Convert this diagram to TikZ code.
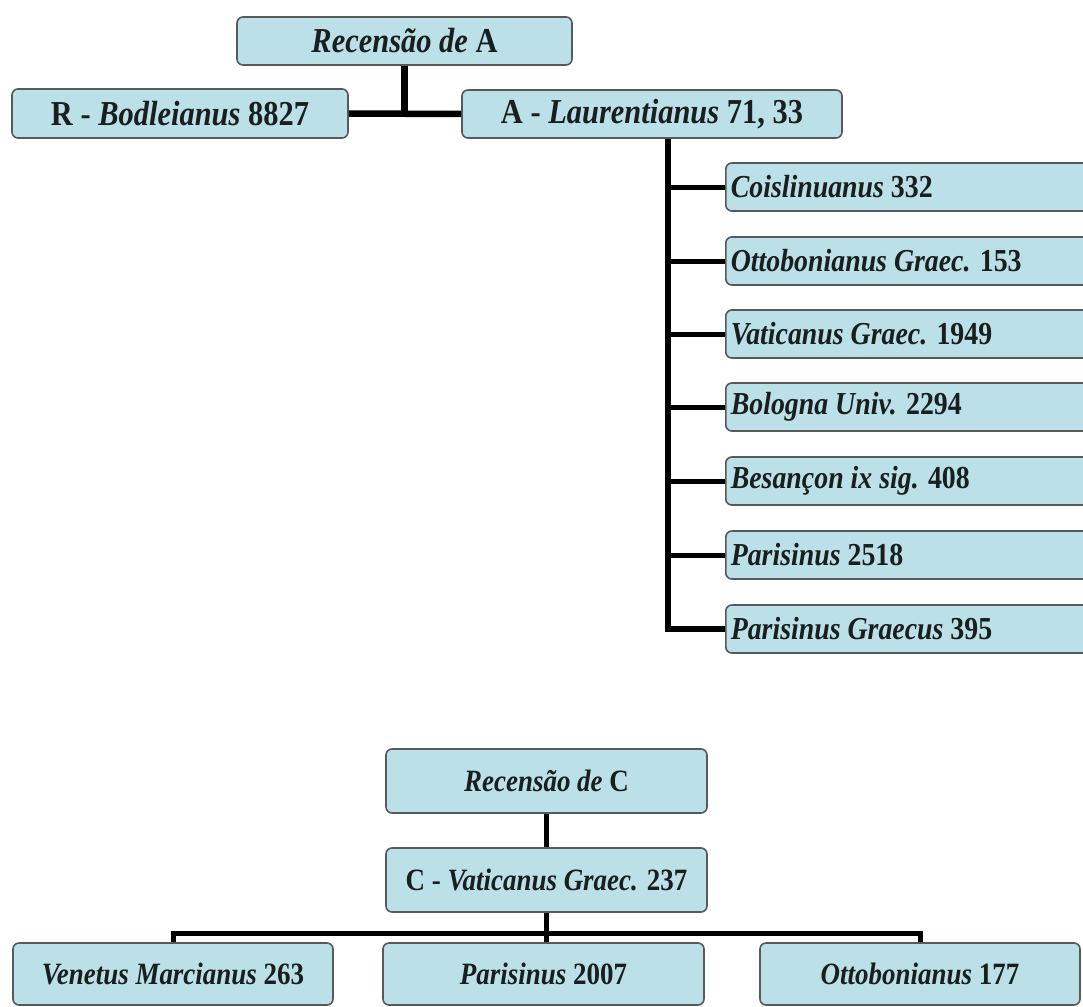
\documentclass[tikz,border=0pt]{standalone}
\usepackage{fontspec}
\setmainfont{Liberation Serif}[FakeStretch=0.87]
\definecolor{boxfill}{RGB}{188,224,231}
\definecolor{boxline}{RGB}{85,90,90}
\definecolor{txt}{RGB}{25,30,30}
\newcommand{\mi}[1]{{\itshape #1}}
\tikzset{
  msbox/.style={draw=boxline, line width=1.6pt, fill=boxfill, rounded corners=6pt,
    text=txt, font=\bfseries, inner sep=0pt},
  topsz/.style={font=\bfseries\fontsize{35}{40}\selectfont},
  kidsz/.style={font=\bfseries\fontsize{32}{36}\selectfont},
  botsz/.style={font=\bfseries\fontsize{31}{35}\selectfont},
  kid/.style={msbox, kidsz, anchor=west, minimum height=48pt, text width=370pt,
    inner xsep=5pt, align=flush left},
  link/.style={line width=5.5pt, line join=miter, draw=black},
}
\begin{document}
\begin{tikzpicture}[x=1pt,y=-1pt]
\useasboundingbox (0,0) rectangle (1083,1006);
\fill[white] (0,0) rectangle (1083,1006);
\clip (0,0) rectangle (1083,1006);
% upper tree
\node[msbox, topsz, minimum width=335pt, minimum height=48pt] (recA) at (404.5,41) {\mi{Recensão de} A};
\node[msbox, topsz, minimum width=336pt, minimum height=49pt] (R) at (180,113.5) {R - \mi{Bodleianus} 8827};
\node[msbox, topsz, minimum width=380pt, minimum height=48pt] (A) at (652,114) {A - \mi{Laurentianus} 71, 33};
\node[kid] (c1) at (725,187) {\mi{Coislinuanus} 332};
\node[kid] (c2) at (725,261) {\mi{Ottobonianus Graec.} 153};
\node[kid] (c3) at (725,334) {\mi{Vaticanus Graec.} 1949};
\node[kid] (c4) at (725,407) {\mi{Bologna Univ.} 2294};
\node[kid] (c5) at (725,481) {\mi{Besançon ix sig.} 408};
\node[kid] (c6) at (725,555) {\mi{Parisinus} 2518};
\node[kid] (c7) at (725,629) {\mi{Parisinus Graecus} 395};
\draw[link, line width=6.5pt] (R.east) -- (A.west);
\draw[link, line width=6.5pt] (recA.south) -- (recA.south |- R.east);
\coordinate (trunk) at ([xshift=16pt]A.south);
\draw[link] (trunk) |- (c7.west);
\foreach \k in {1,...,6} {\draw[link, line width=5pt] (trunk |- c\k.west) -- (c\k.west);}
% lower tree
\node[msbox, botsz, minimum width=321pt, minimum height=64pt] (recC) at (546.5,781) {\mi{Recensão de} C};
\node[msbox, botsz, minimum width=321pt, minimum height=64pt] (C) at (546.5,880) {C - \mi{Vaticanus Graec.} 237};
\node[msbox, botsz, minimum width=320pt, minimum height=62pt] (v1) at (173,974) {\mi{Venetus Marcianus} 263};
\node[msbox, botsz, minimum width=321pt, minimum height=62pt] (v2) at (543.5,974) {\mi{Parisinus} 2007};
\node[msbox, botsz, minimum width=320pt, minimum height=62pt] (v3) at (920,974) {\mi{Ottobonianus} 177};
\coordinate (barY) at (0,933);
\draw[link, line width=4.5pt] (recC.south) -- (C.north);
\draw[link, line width=5pt] (v1.north) -- (v1.north |- barY) -| (v3.north);
\draw[link, line width=4.5pt] (C.south) -- (C.south |- v2.north);
\end{tikzpicture}
\end{document}
